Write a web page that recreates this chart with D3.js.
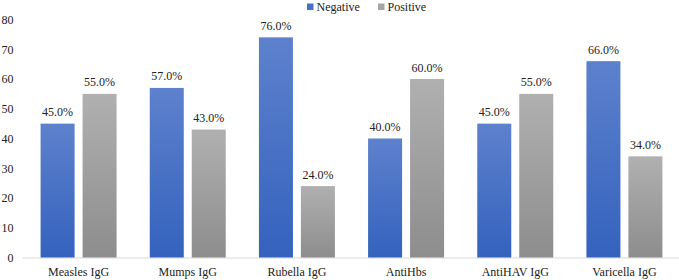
<!DOCTYPE html>
<html><head><meta charset="utf-8">
<script src="https://cdn.jsdelivr.net/npm/d3@7"></script>
<style>body{margin:0;background:#fff}svg{display:block}</style>
</head><body><svg id="c" width="679" height="280"></svg>
<script>
const categories = ["Measles IgG","Mumps IgG","Rubella IgG","AntiHbs","AntiHAV IgG","Varicella IgG"];
const seriesNames = ["Negative","Positive"];
const negativeValues = [45,57,74,40,45,66];
const positiveValues = [55,43,24,60,55,34];
const negativeLabels = ["45.0%","57.0%","76.0%","40.0%","45.0%","66.0%"];
const positiveLabels = ["55.0%","43.0%","24.0%","60.0%","55.0%","34.0%"];
const yTicks = [0,10,20,30,40,50,60,70,80];

const FONT = "Liberation Serif";
const svg = d3.select("#c");
const defs = svg.append("defs");
function grad(id, top, bottom){
  const g = defs.append("linearGradient").attr("id",id).attr("x1",0).attr("y1",0).attr("x2",0).attr("y2",1);
  g.append("stop").attr("offset","0%").attr("stop-color",top);
  g.append("stop").attr("offset","100%").attr("stop-color",bottom);
}
grad("gNeg","#5d81cd","#3462bd");
grad("gPos","#b0b0b0","#8d8d8d");
const fills = {Negative:"url(#gNeg)", Positive:"url(#gPos)"};
const legendColors = {Negative:"#4472c4", Positive:"#a5a5a5"};

const y = d3.scaleLinear().domain([0,80]).range([257.5,19.5]);
const x0 = d3.scaleBand().domain(categories).range([24,679]).paddingInner(0).paddingOuter(0);
const x1 = d3.scaleBand().domain(seriesNames).range([0,x0.bandwidth()]).paddingInner(0.19).paddingOuter(0.395);

function txt(sel){ return sel.attr("font-family",FONT).attr("font-size","12px").attr("fill","#222"); }

// y axis via d3.axisLeft, styled to look like the reference (no line, no ticks)
const yAxis = svg.append("g").attr("transform","translate(13.5,0)")
  .call(d3.axisLeft(y).tickValues(yTicks).tickSize(0).tickPadding(0));
yAxis.select(".domain").remove();
txt(yAxis.selectAll("text"));
yAxis.attr("font-family",FONT);

// baseline
svg.append("line").attr("x1",22).attr("x2",679).attr("y1",y(0)+0.5).attr("y2",y(0)+0.5)
  .attr("stroke","#d9d9d9").attr("stroke-width",1);

const rows = categories.map((c,i)=>({cat:c, items:[
  {s:"Negative", v:negativeValues[i], l:negativeLabels[i]},
  {s:"Positive", v:positiveValues[i], l:positiveLabels[i]}]}));

const g = svg.append("g").selectAll("g").data(rows).join("g")
  .attr("transform",d=>`translate(${x0(d.cat)},0)`);
g.selectAll("rect").data(d=>d.items).join("rect")
  .attr("x",d=>x1(d.s)).attr("width",x1.bandwidth())
  .attr("y",d=>y(d.v)).attr("height",d=>y(0)-y(d.v))
  .attr("fill",d=>fills[d.s]);
txt(g.selectAll("text.lbl").data(d=>d.items).join("text").attr("class","lbl"))
  .attr("x",d=>x1(d.s)+x1.bandwidth()/2).attr("y",d=>y(d.v)-7.5)
  .attr("text-anchor","middle").text(d=>d.l);

// x axis labels via d3.axisBottom
const xAxis = svg.append("g").attr("transform",`translate(0,${y(0)})`)
  .call(d3.axisBottom(x0).tickSize(0).tickPadding(10));
xAxis.select(".domain").remove();
xAxis.attr("font-family",FONT).attr("font-size","12px");
txt(xAxis.selectAll("text"));

// legend
const legX = [307, 378];
seriesNames.forEach((s,i)=>{
  svg.append("rect").attr("x",legX[i]).attr("y",3.5).attr("width",6.5).attr("height",6.5).attr("fill",legendColors[s]);
  txt(svg.append("text")).attr("x",legX[i]+9.5).attr("y",11).text(s);
});
</script></body></html>
